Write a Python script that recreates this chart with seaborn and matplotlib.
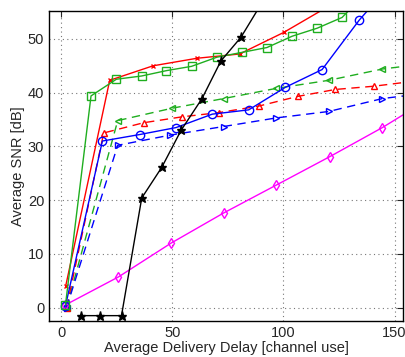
import matplotlib
matplotlib.use("Agg")
import matplotlib.pyplot as plt
import seaborn as sns

# Data (x: delay, y: SNR)
black_x = [8.9, 17.6, 27.2, 36.3, 45.3, 54.0, 63.4, 71.9, 80.9, 90.0]
black_y = [-1.5, -1.5, -1.5, 20.4, 26.1, 33.0, 38.9, 45.9, 50.3, 56.5]

magenta_x = [2.0, 25.8, 49.5, 73.1, 96.8, 120.9, 144.5, 168.1]
magenta_y = [0.5, 5.7, 12.0, 17.6, 22.8, 28.1, 33.5, 39.5]

blue_x = [2.0, 18.6, 35.3, 51.7, 68.0, 84.4, 100.9, 117.4, 134.1, 150.0]
blue_y = [0.3, 31.0, 32.2, 33.5, 36.0, 36.8, 41.0, 44.3, 53.5, 61.0]

red_x = [2.1, 21.9, 41.4, 61.1, 80.3, 100.1, 120.0]
red_y = [4.0, 42.3, 45.0, 46.4, 47.2, 51.2, 56.0]

green_x = [2.0, 13.5, 24.9, 36.2, 47.4, 58.7, 70.1, 81.4, 92.6, 103.9, 115.2, 126.4, 137.6]
green_y = [0.5, 39.4, 42.5, 43.1, 44.1, 44.9, 46.6, 47.5, 48.4, 50.5, 52.0, 54.0, 58.8]

green_d_x = [2.5, 25.5, 49.9, 73.1, 96.8, 120.4, 144.5, 168.1]
green_d_y = [0.0, 34.8, 37.1, 38.9, 40.8, 42.3, 44.4, 45.6]

red_d_x = [2.5, 19.2, 37.1, 54.4, 71.2, 88.9, 106.4, 123.4, 140.7, 158.2]
red_d_y = [0.0, 32.5, 34.4, 35.5, 36.3, 37.5, 39.3, 40.6, 41.2, 42.1]

blue_d_x = [2.5, 25.5, 49.1, 73.1, 96.8, 120.4, 144.5, 168.1]
blue_d_y = [0.0, 30.2, 32.1, 33.7, 35.3, 36.5, 38.9, 40.1]

x_ticks = [0, 50, 100, 150]
y_ticks = [0, 10, 20, 30, 40, 50]

sns.set_style("white")
plt.rcParams['font.family'] = ['Liberation Sans', 'DejaVu Sans']

fig = plt.figure(figsize=(4.06, 3.57), dpi=100)
ax = fig.add_axes([0.1207, 0.1008, 0.872, 0.8684])

green = '#1fae1f'
series = [
    (green_d_x, green_d_y, green, '--', '<', 4.5, 'none'),
    (red_d_x, red_d_y, 'red', '--', '^', 4.5, 'none'),
    (blue_d_x, blue_d_y, 'blue', '--', '>', 4.5, 'none'),
    (magenta_x, magenta_y, 'magenta', '-', 'd', 5.5, 'none'),
    (blue_x, blue_y, 'blue', '-', 'o', 6, 'none'),
    (red_x, red_y, 'red', '-', 'x', 3, 'red'),
    (green_x, green_y, green, '-', 's', 6, 'none'),
    (black_x, black_y, 'black', '-', '*', 6.5, 'black'),
]
for xs, ys, c, ls, mk, ms, mfc in series:
    line_ax = sns.lineplot(x=xs, y=ys, ax=ax, color=c, linestyle=ls, marker=mk,
                           markersize=ms, markerfacecolor=mfc, markeredgecolor=c,
                           markeredgewidth=1.0, linewidth=1.0, sort=False,
                           estimator=None)
    if ls == '--':
        line_ax.lines[-1].set_dashes((6, 4))

ax.set_xlim(-5.4, 153.8)
ax.set_ylim(-2.5, 55.2)
ax.set_xticks(x_ticks)
ax.set_yticks(y_ticks)
ax.grid(True, linestyle=(0, (1, 3)), color='#777777', linewidth=0.8)
ax.tick_params(direction='in', length=4, labelsize=10.5, top=True, right=True,
               labeltop=False, labelright=False)
for s in ax.spines.values():
    s.set_color('black')
    s.set_linewidth(1.0)
ax.set_xlabel("Average Delivery Delay [channel use]", fontsize=10.5, labelpad=1)
ax.set_ylabel("Average SNR [dB]", fontsize=10.5, labelpad=2)

fig.savefig("out.png", dpi=100)
